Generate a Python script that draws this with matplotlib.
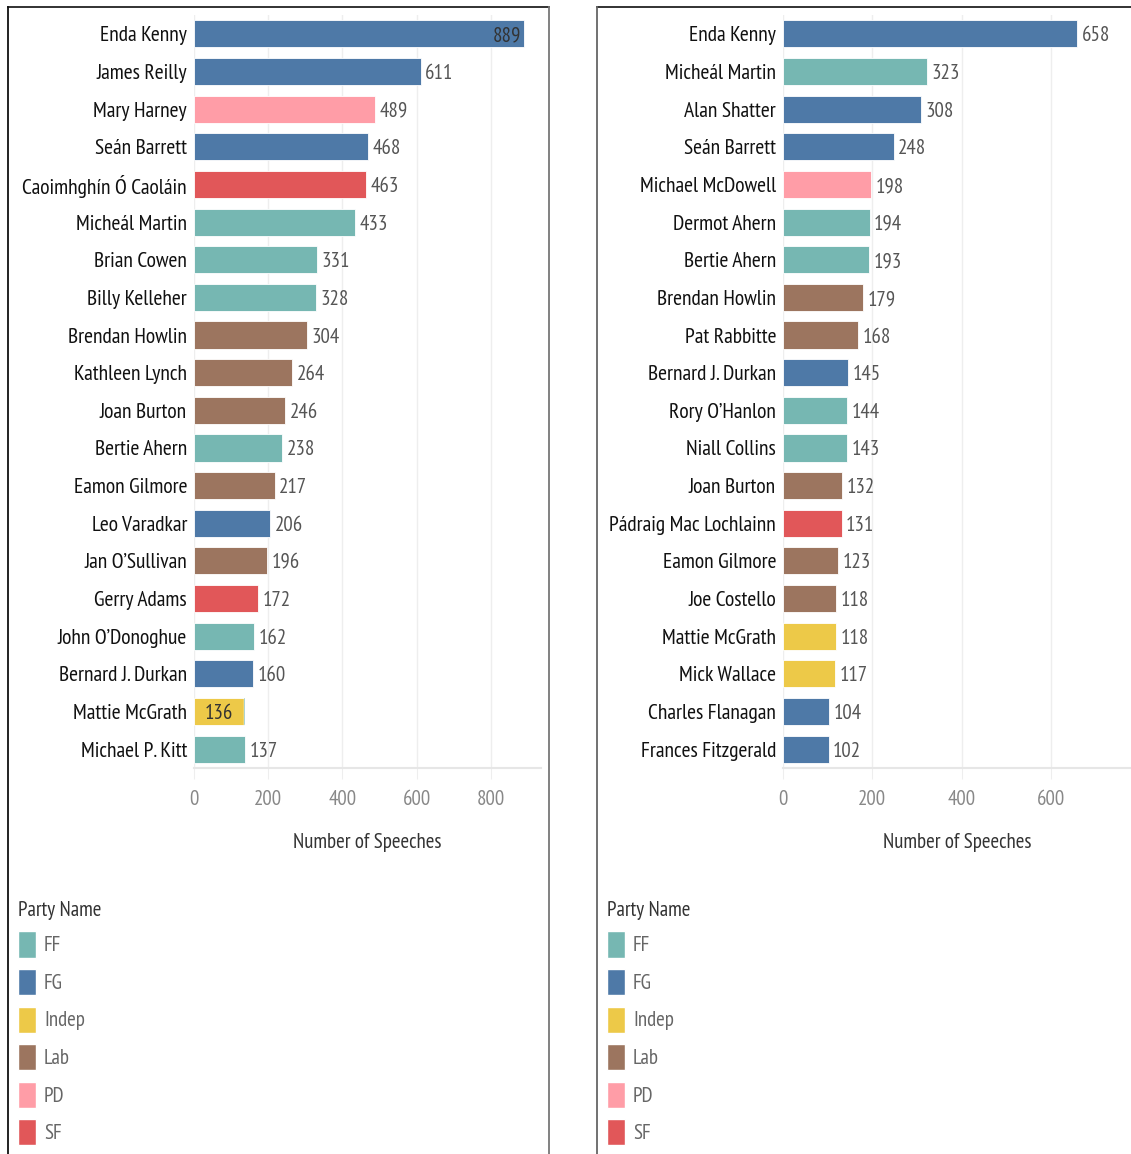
import matplotlib
matplotlib.use('Agg')
import matplotlib.pyplot as plt
from matplotlib.patches import Patch
from matplotlib.lines import Line2D

plt.rcParams['font.family'] = ['PT Sans Narrow', 'Roboto Condensed',
                               'Liberation Sans', 'DejaVu Sans']

party_names = ['FF', 'FG', 'Indep', 'Lab', 'PD', 'SF']
party_colors = {'FF': '#76b7b2', 'FG': '#4e79a7', 'Indep': '#edc948',
                'Lab': '#9c755f', 'PD': '#ff9da7', 'SF': '#e15759'}

left_names = ['Enda Kenny', 'James Reilly', 'Mary Harney', 'Seán Barrett',
              'Caoimhghín Ó Caoláin', 'Micheál Martin', 'Brian Cowen', 'Billy Kelleher',
              'Brendan Howlin', 'Kathleen Lynch', 'Joan Burton', 'Bertie Ahern',
              'Eamon Gilmore', 'Leo Varadkar', 'Jan O’Sullivan', 'Gerry Adams',
              'John O’Donoghue', 'Bernard J. Durkan', 'Mattie McGrath', 'Michael P. Kitt']
left_values = [889, 611, 489, 468, 463, 433, 331, 328, 304, 264,
               246, 238, 217, 206, 196, 172, 162, 160, 136, 137]
left_party = ['FG', 'FG', 'PD', 'FG', 'SF', 'FF', 'FF', 'FF', 'Lab', 'Lab',
              'Lab', 'FF', 'Lab', 'FG', 'Lab', 'SF', 'FF', 'FG', 'Indep', 'FF']
# second (stacked) segment: Mattie McGrath also has a few FF speeches
left_extra = {'Mattie McGrath': ('FF', 2)}

right_names = ['Enda Kenny', 'Micheál Martin', 'Alan Shatter', 'Seán Barrett',
               'Michael McDowell', 'Dermot Ahern', 'Bertie Ahern', 'Brendan Howlin',
               'Pat Rabbitte', 'Bernard J. Durkan', 'Rory O’Hanlon', 'Niall Collins',
               'Joan Burton', 'Pádraig Mac Lochlainn', 'Eamon Gilmore', 'Joe Costello',
               'Mattie McGrath', 'Mick Wallace', 'Charles Flanagan', 'Frances Fitzgerald']
right_values = [658, 323, 308, 248, 198, 194, 193, 179, 168, 145,
                144, 143, 132, 131, 123, 118, 118, 117, 104, 102]
right_party = ['FG', 'FF', 'FG', 'FG', 'PD', 'FF', 'FF', 'Lab', 'Lab', 'FG',
               'FF', 'FF', 'Lab', 'SF', 'Lab', 'Lab', 'Indep', 'Indep', 'FG', 'FG']

W, H = 1131, 1154
FS = 15
fig = plt.figure(figsize=(W / 100, H / 100), dpi=100)


def px_rect(x0, y0, x1, y1):
    return [x0 / W, 1 - y1 / H, (x1 - x0) / W, (y1 - y0) / H]


def draw_panel(rect, names, values, party, xmax, ticks, extra=None, inside=()):
    extra = extra or {}
    ax = fig.add_axes(rect)
    ys = range(len(names))
    ax.barh(ys, values, height=0.72, color=[party_colors[p] for p in party],
            edgecolor='white', linewidth=0.6, zorder=3)
    for i, n in enumerate(names):
        if n in extra:
            p, v = extra[n]
            ax.barh(i, v, left=values[i], height=0.72, color=party_colors[p],
                    edgecolor='white', linewidth=0.3, zorder=3)
    ax.set_ylim(len(names) - 0.5, -0.5)
    ax.set_xlim(0, xmax)
    for i, (n, v) in enumerate(zip(names, values)):
        if n in inside:
            ax.text(v - xmax * 0.008, i, str(v), va='center_baseline', ha='right',
                    fontsize=FS, color='#333333', zorder=4)
        elif n in extra:
            ax.text(v / 2, i, str(v), va='center_baseline', ha='center',
                    fontsize=FS, color='#333333', zorder=4)
        else:
            ax.text(v + xmax * 0.013, i, str(v), va='center_baseline', ha='left',
                    fontsize=FS, color='#555555', zorder=4)
    ax.set_yticks(list(ys))
    ax.set_yticklabels(names, fontsize=15.5, color='#111111')
    ax.tick_params(axis='y', length=0, pad=5)
    ax.set_xticks(ticks)
    ax.tick_params(axis='x', length=8, color='#eeeeee', labelsize=FS,
                   labelcolor='#888888', pad=8)
    ax.grid(axis='x', color='#eeeeee', linewidth=1, zorder=0)
    for s in ['top', 'right', 'left']:
        ax.spines[s].set_visible(False)
    ax.spines['bottom'].set_color('#e6e6e6')
    ax.spines['bottom'].set_linewidth(1.5)
    ax.set_xlabel('Number of Speeches', fontsize=FS, color='#333333', labelpad=17)
    return ax


draw_panel(px_rect(194, 15, 541, 768), left_names, left_values, left_party,
           935, [0, 200, 400, 600, 800], extra=left_extra, inside=('Enda Kenny',))
draw_panel(px_rect(783, 15, 1131, 768), right_names, right_values, right_party,
           779, [0, 200, 400, 600])


# panel borders
def fline(x0, y0, x1, y1, color):
    fig.add_artist(Line2D([x0 / W, x1 / W], [1 - y0 / H, 1 - y1 / H],
                          color=color, linewidth=1.3))


fline(8, 7, 549, 7, '#222222')
fline(8, 7, 8, H, '#111111')
fline(549, 7, 549, H, '#777777')
fline(597, 7, 1131, 7, '#222222')
fline(597, 7, 597, H, '#666666')

handles = [Patch(facecolor=party_colors[p], edgecolor='white') for p in party_names]
for x in [18, 607]:
    leg = fig.legend(handles, party_names, loc='upper left',
                     bbox_to_anchor=(x / W, 1 - 901 / H), frameon=False,
                     title='Party Name', title_fontsize=FS, fontsize=FS,
                     handlelength=0.85, handleheight=1.55, handletextpad=0.4,
                     labelspacing=0.55, borderpad=0, borderaxespad=0)
    leg._legend_box.align = 'left'
    leg.get_title().set_color('#333333')
    for t in leg.get_texts():
        t.set_color('#666666')

plt.savefig('out.png', dpi=100)
plt.close()
